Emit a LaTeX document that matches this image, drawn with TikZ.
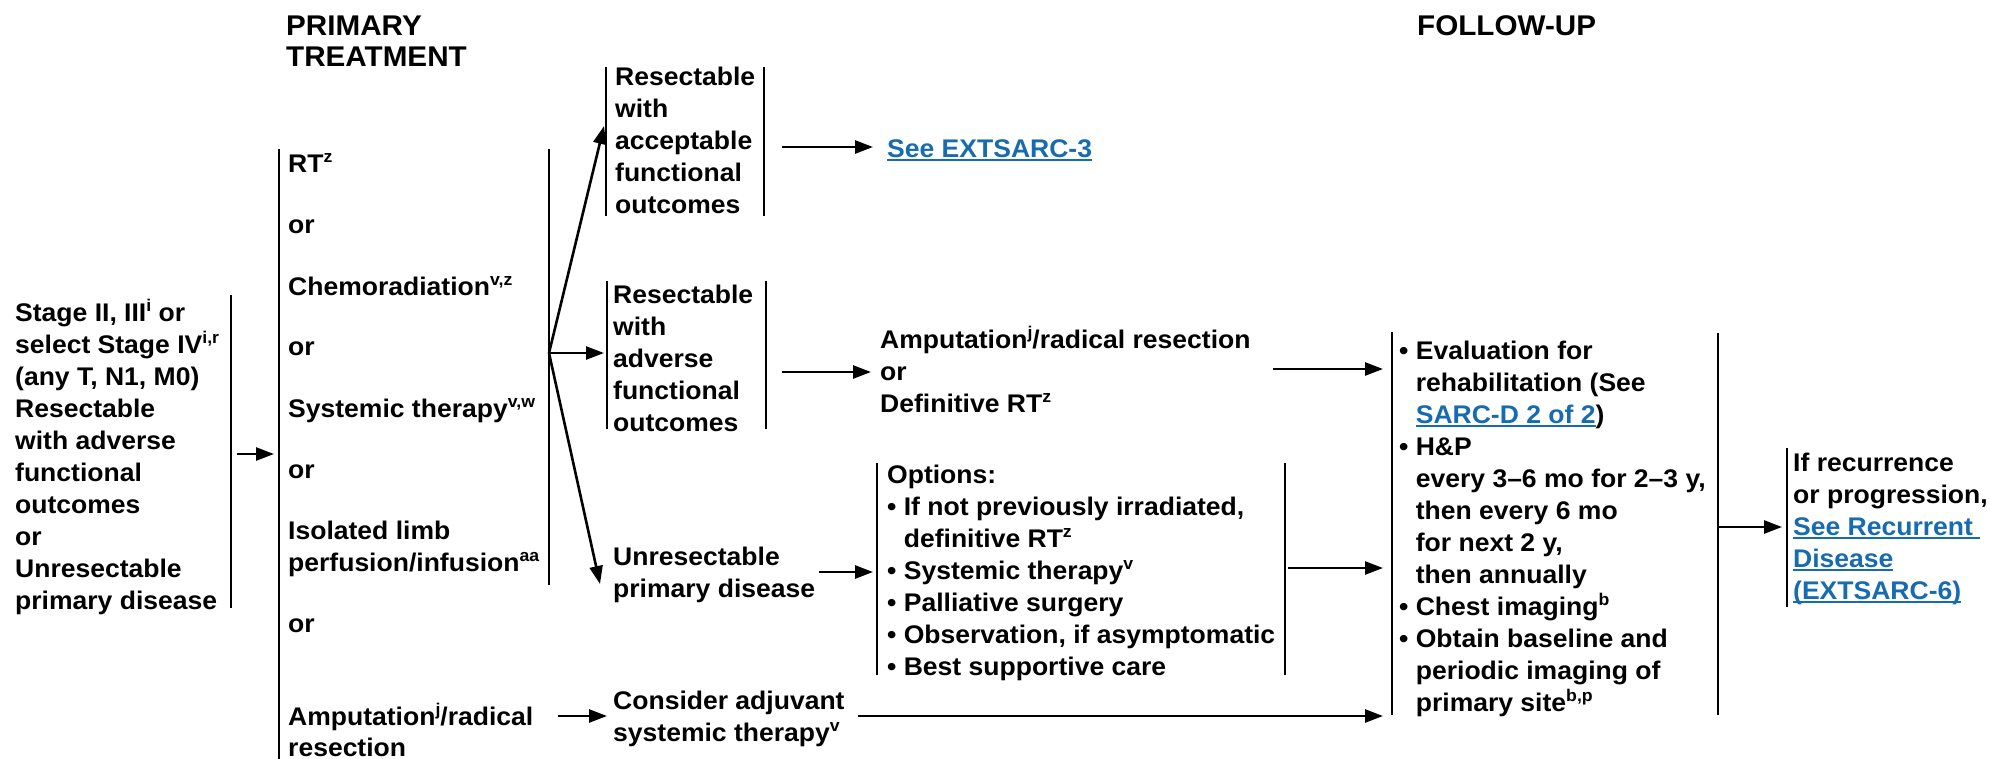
\documentclass[tikz,border=0pt]{standalone}
\usepackage{fontspec}
\setmainfont{Liberation Sans}[FakeStretch=1.04]
\usetikzlibrary{arrows.meta}
\definecolor{linkblue}{RGB}{23,107,176}
\newcommand\su[1]{\raisebox{10pt}{\fontsize{17}{17}\selectfont #1}}
\newcommand\lnk[1]{{\color{linkblue}\setbox0\hbox{#1}\rlap{\rule[-3.5pt]{\wd0}{2pt}}\box0}}
\newcommand\blk[1]{\begin{tabular}[t]{@{}l@{}}#1\end{tabular}}
\newcommand\ind{\phantom{•\ }}
\begin{document}
\begin{tikzpicture}[x=1pt,y=-1pt,
  txt/.style={anchor=base west,inner sep=0pt,font=\fontsize{25.5}{32}\selectfont\bfseries},
  hd/.style={anchor=base west,inner sep=0pt,font=\fontsize{28.5}{31}\selectfont\bfseries},
  bar/.style={line width=2.8pt},
  arr/.style={line width=2.6pt,-{Triangle[length=18pt,width=13pt]}}]
\useasboundingbox (0,0) rectangle (1990,758);
\fill[white] (0,0) rectangle (1990,758);

% headings
\node[hd] (hPT) at (286,35) {\blk{PRIMARY\\TREATMENT}};
\node[hd] (hFU) at (1417,35) {FOLLOW-UP};

% left block
\node[txt] (stage) at (15,321) {\blk{Stage II, III\su{i} or\\select Stage IV\su{i,r}\\(any T, N1, M0)\\Resectable\\with adverse\\functional\\outcomes\\or\\Unresectable\\primary disease}};
\coordinate (b0t) at (231,295); \coordinate (b0b) at (231,608);
\draw[bar] (b0t) -- (b0b);
\coordinate (a0s) at (237,454); \coordinate (a0e) at (274,454);
\draw[arr] (a0s) -- (a0e);

% primary treatment
\coordinate (b1t) at (279,149); \coordinate (b1b) at (279,762);
\draw[bar] (b1t) -- (b1b);
\node[txt] (rt) at (288,172) {RT\su{z}};
\node[txt] (or1) at (288,233) {or};
\node[txt] (chemo) at (288,295) {Chemoradiation\su{v,z}};
\node[txt] (or2) at (288,355) {or};
\node[txt] (sys) at (288,417) {Systemic therapy\su{v,w}};
\node[txt] (or3) at (288,478) {or};
\node[txt] (ilp) at (288,539) {\blk{Isolated limb\\perfusion/infusion\su{aa}}};
\node[txt] (or4) at (288,632) {or};
\node[txt] (amp) at (288,725) {Amputation\su{j}/radical};
\node[txt] (amp2) at (288,756) {resection};
\coordinate (b2t) at (549,149); \coordinate (b2b) at (549,585);
\draw[bar] (b2t) -- (b2b);
\coordinate (br) at (549,353);

% box A
\coordinate (tA) at (604,126);
\draw[arr] (br) -- (tA);
\draw[bar] (606,67) -- (606,216);
\draw[bar] (764,67) -- (764,216);
\node[txt] (resA) at (615,85) {\blk{Resectable\\with\\acceptable\\functional\\outcomes}};
\coordinate (aAs) at (782,147); \coordinate (aAe) at (873,147);
\draw[arr] (aAs) -- (aAe);
\node[txt] (see3) at (887,157) {\lnk{See EXTSARC-3}};

% box B
\coordinate (tB) at (604,353);
\draw[arr] (br) -- (tB);
\draw[bar] (607,281) -- (607,429);
\draw[bar] (766,281) -- (766,429);
\node[txt] (resB) at (613,303) {\blk{Resectable\\with\\adverse\\functional\\outcomes}};
\coordinate (aBs) at (782,372); \coordinate (aBe) at (871,372);
\draw[arr] (aBs) -- (aBe);
\node[txt] (ampB) at (880,348) {\blk{Amputation\su{j}/radical resection\\or\\Definitive RT\su{z}}};
\coordinate (aB2s) at (1273,369); \coordinate (aB2e) at (1383,369);
\draw[arr] (aB2s) -- (aB2e);

% unresectable
\coordinate (tU) at (600,584);
\draw[arr] (br) -- (tU);
\node[txt] (unres) at (613,565) {\blk{Unresectable\\primary disease}};
\coordinate (aUs) at (819,572); \coordinate (aUe) at (873,572);
\draw[arr] (aUs) -- (aUe);
\draw[bar] (877,463) -- (877,675);
\draw[bar] (1285,463) -- (1285,675);
\node[txt] (opt) at (887,483) {\blk{Options:\\• If not previously irradiated,\\\ind definitive RT\su{z}\\• Systemic therapy\su{v}\\• Palliative surgery\\• Observation, if asymptomatic\\• Best supportive care}};
\coordinate (aOs) at (1288,568); \coordinate (aOe) at (1383,568);
\draw[arr] (aOs) -- (aOe);

% adjuvant
\coordinate (aAmS) at (558,716); \coordinate (aAmE) at (607,716);
\draw[arr] (aAmS) -- (aAmE);
\node[txt] (adj) at (613,709) {\blk{Consider adjuvant\\systemic therapy\su{v}}};
\coordinate (aJs) at (858,716); \coordinate (aJe) at (1383,716);
\draw[arr] (aJs) -- (aJe);

% follow-up
\draw[bar] (1392,332) -- (1392,715);
\draw[bar] (1718,333) -- (1718,715);
\node[txt] (fu) at (1399,359) {\blk{• Evaluation for\\\ind rehabilitation (See\\\ind \lnk{SARC-D 2 of 2})\\• H\&P\\\ind every 3–6 mo for 2–3 y,\\\ind then every 6 mo\\\ind for next 2 y,\\\ind then annually\\• Chest imaging\su{b}\\• Obtain baseline and\\\ind periodic imaging of\\\ind primary site\su{b,p}}};
\coordinate (aFs) at (1718,527); \coordinate (aFe) at (1782,527);
\draw[arr] (aFs) -- (aFe);

% recurrence
\draw[bar] (1787,448) -- (1787,607);
\node[txt] (rec) at (1793,471) {\blk{If recurrence\\or progression,\\\lnk{See Recurrent\ }\\\lnk{Disease}\\\lnk{(EXTSARC-6)}}};
\end{tikzpicture}
\end{document}
